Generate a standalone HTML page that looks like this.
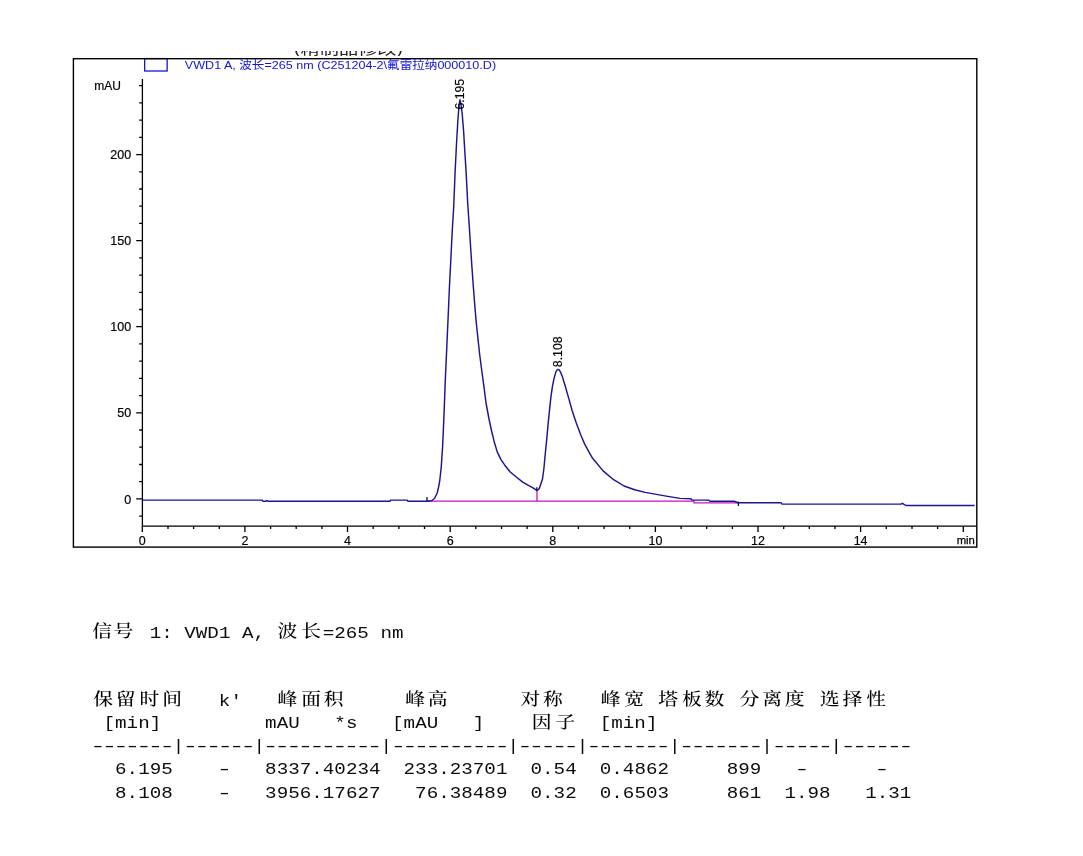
<!DOCTYPE html>
<html lang="zh"><head><meta charset="utf-8"><title>Report</title><style>
html,body{margin:0;padding:0;background:#fff}
body{width:1083px;height:856px;position:relative;overflow:hidden}
.r{position:absolute;white-space:pre;font-family:"Liberation Mono","Noto Serif CJK SC",monospace;font-size:17.0px;line-height:24px;height:24px;color:#0c0c0c;transform:scaleX(1.130);transform-origin:0 0}
.r .c{display:inline-block;position:relative;font-family:"Noto Serif CJK SC","Noto Sans CJK SC",serif;font-weight:500;font-size:16.5px;letter-spacing:0;padding-left:1.06px;box-sizing:border-box;line-height:10px;height:10px;vertical-align:baseline;color:#000;transform:translateY(-1.5px) scaleX(1.062);transform-origin:0 50%}
.r .d{display:inline-block;transform:translateX(-1.86px) scaleX(1.372);transform-origin:0 50%;white-space:pre;overflow:visible}
</style></head><body>
<svg width="1083" height="856" viewBox="0 0 1083 856" style="position:absolute;left:0;top:0">
<defs><clipPath id="topclip"><rect x="280" y="50.9" width="140" height="5.2"/></clipPath></defs>
<g clip-path="url(#topclip)"><text x="294" y="54.3" font-family="'Liberation Sans','Noto Sans CJK SC',sans-serif" font-size="15" fill="#222" textLength="109" lengthAdjust="spacingAndGlyphs">(精制品修改)</text></g>
<rect x="144.65" y="58.6" width="22.5" height="12.4" fill="none" stroke="#1414d4" stroke-width="1.3"/>
<rect x="73.4" y="58.7" width="903.4" height="488.4" fill="none" stroke="#000" stroke-width="1.4"/>
<text id="legend" x="184.8" y="68.8" font-family="'Liberation Sans','Noto Sans CJK SC',sans-serif" font-size="11.6" fill="#1414d4" textLength="311.3" lengthAdjust="spacingAndGlyphs">VWD1 A, 波长=265 nm (C251204-2\氟雷拉纳000010.D)</text>
<g stroke="#000" stroke-width="1.3" fill="none">
<path d="M142.4 79 V526.1 H976.8"/>
<path d="M139.2 516.1 H142.4 M136.2 498.9 H142.4 M139.2 481.7 H142.4 M139.2 464.5 H142.4 M139.2 447.2 H142.4 M139.2 430.0 H142.4 M136.2 412.8 H142.4 M139.2 395.6 H142.4 M139.2 378.4 H142.4 M139.2 361.2 H142.4 M139.2 343.9 H142.4 M136.2 326.7 H142.4 M139.2 309.5 H142.4 M139.2 292.3 H142.4 M139.2 275.1 H142.4 M139.2 257.9 H142.4 M136.2 240.6 H142.4 M139.2 223.4 H142.4 M139.2 206.2 H142.4 M139.2 189.0 H142.4 M139.2 171.8 H142.4 M136.2 154.6 H142.4 M139.2 137.3 H142.4 M139.2 120.1 H142.4 M139.2 102.9 H142.4 M139.2 85.7 H142.4"/>
<path d="M142.3 526.1 V532.1 M168.0 526.1 V529.1 M193.6 526.1 V529.1 M219.3 526.1 V529.1 M244.9 526.1 V532.1 M270.6 526.1 V529.1 M296.2 526.1 V529.1 M321.9 526.1 V529.1 M347.5 526.1 V532.1 M373.2 526.1 V529.1 M398.9 526.1 V529.1 M424.5 526.1 V529.1 M450.2 526.1 V532.1 M475.8 526.1 V529.1 M501.5 526.1 V529.1 M527.1 526.1 V529.1 M552.8 526.1 V532.1 M578.4 526.1 V529.1 M604.1 526.1 V529.1 M629.7 526.1 V529.1 M655.4 526.1 V532.1 M681.1 526.1 V529.1 M706.7 526.1 V529.1 M732.4 526.1 V529.1 M758.0 526.1 V532.1 M783.7 526.1 V529.1 M809.3 526.1 V529.1 M835.0 526.1 V529.1 M860.6 526.1 V532.1 M886.3 526.1 V529.1 M912.0 526.1 V529.1 M937.6 526.1 V529.1 M963.3 526.1 V532.1"/>
</g>
<g font-family="'Liberation Sans',sans-serif" font-size="12.5" fill="#000" stroke="#000" stroke-width="0.18">
<text x="94.2" y="89.9" font-size="12">mAU</text>
<text x="131.2" y="503.5" text-anchor="end">0</text>
<text x="131.2" y="417.4" text-anchor="end">50</text>
<text x="131.2" y="331.3" text-anchor="end">100</text>
<text x="131.2" y="245.2" text-anchor="end">150</text>
<text x="131.2" y="159.2" text-anchor="end">200</text>
<text x="142.3" y="545.2" text-anchor="middle">0</text>
<text x="244.9" y="545.2" text-anchor="middle">2</text>
<text x="347.5" y="545.2" text-anchor="middle">4</text>
<text x="450.2" y="545.2" text-anchor="middle">6</text>
<text x="552.8" y="545.2" text-anchor="middle">8</text>
<text x="655.4" y="545.2" text-anchor="middle">10</text>
<text x="758.0" y="545.2" text-anchor="middle">12</text>
<text x="860.6" y="545.2" text-anchor="middle">14</text>
<text x="974.9" y="543.9" text-anchor="end" font-size="11.3" stroke="#000" stroke-width="0.25">min</text>
</g>
<path d="M427 501.2 H694 V502.9 H738 M537 490.8 V501.2" stroke="#c414bc" stroke-width="1.3" fill="none"/>
<polyline points="142.6,500.1 262.0,500.1 263.0,501.2 266.0,501.2 267.0,500.5 268.0,501.2 390.0,501.2 391.0,500.1 407.0,500.1 408.0,501.2 427.0,501.2 431.6,500.8 434.5,498.5 437.2,493.0 438.6,487.0 439.7,481.0 441.2,467.5 442.7,445.0 444.0,415.0 445.3,380.0 446.8,347.0 448.1,318.0 449.5,285.5 450.9,258.0 452.3,230.0 453.7,207.0 455.1,172.0 456.5,144.0 457.9,120.0 459.1,105.0 460.0,99.8 461.0,104.0 462.2,114.0 463.6,131.0 465.0,154.5 466.1,172.0 467.8,205.0 469.2,225.0 470.6,247.0 472.0,268.0 473.4,287.5 474.8,305.5 476.2,322.0 477.7,336.2 479.5,353.0 481.4,368.0 484.2,388.6 486.1,403.5 488.9,418.5 491.7,431.5 494.5,442.8 497.3,452.1 501.0,459.6 504.8,465.2 510.0,471.7 516.0,476.8 522.7,482.1 528.0,485.2 533.0,487.8 536.8,490.4 538.2,489.7 539.4,488.3 540.8,484.0 542.5,479.0 543.9,468.5 545.4,452.5 546.8,438.5 548.2,423.1 549.6,409.1 551.0,396.4 552.4,386.6 554.1,378.2 555.9,371.9 557.0,370.0 558.0,369.3 559.0,369.8 560.1,371.2 562.2,376.1 565.0,385.2 568.6,397.9 572.1,410.5 576.3,423.1 580.5,434.3 584.7,444.1 590.0,453.9 592.6,458.3 603.1,470.9 613.6,479.7 624.1,486.0 634.6,489.8 645.2,492.4 666.2,496.1 680.0,498.4 691.0,498.8 692.0,500.1 709.0,500.1 710.0,501.3 734.0,501.3 738.0,502.7 781.0,502.7 782.0,504.1 901.0,504.1 902.5,503.3 904.0,504.3 906.0,505.5 974.6,505.5" fill="none" stroke="#1c1490" stroke-width="1.45" stroke-linejoin="round"/>
<path d="M427 497 V501.6 M536.8 487.3 V491 M738.4 501.6 V506" stroke="#101040" stroke-width="1.3" fill="none"/>
<g font-family="'Liberation Sans',sans-serif" font-size="12.3" fill="#000" stroke="#000" stroke-width="0.18">
<text transform="translate(463.5 109.6) rotate(-90)">6.195</text>
<text transform="translate(562.2 367.2) rotate(-90)">8.108</text>
</g>
</svg>
<div class="r" style="left:91.80px;top:622.20px;letter-spacing:0.011px"><span class="c" style="width:20.42px;margin-left:-1.15px;margin-right:1.15px">信</span><span class="c" style="width:20.42px;margin-left:-2.65px;margin-right:2.65px">号</span> 1: VWD1 A, <span class="c" style="width:20.42px">波</span><span class="c" style="width:20.42px">长</span>=265 nm</div>
<div class="r" style="left:91.80px;top:689.60px;letter-spacing:0.011px"><span class="c" style="width:20.42px">保</span><span class="c" style="width:20.42px">留</span><span class="c" style="width:20.42px">时</span><span class="c" style="width:20.42px">间</span>   k'   <span class="c" style="width:20.42px">峰</span><span class="c" style="width:20.42px">面</span><span class="c" style="width:20.42px">积</span>     <span class="c" style="width:20.42px">峰</span><span class="c" style="width:20.42px">高</span>      <span class="c" style="width:20.42px">对</span><span class="c" style="width:20.42px">称</span>   <span class="c" style="width:20.42px">峰</span><span class="c" style="width:20.42px">宽</span> <span class="c" style="width:20.42px">塔</span><span class="c" style="width:20.42px">板</span><span class="c" style="width:20.42px">数</span> <span class="c" style="width:20.42px">分</span><span class="c" style="width:20.42px">离</span><span class="c" style="width:20.42px">度</span> <span class="c" style="width:20.42px">选</span><span class="c" style="width:20.42px">择</span><span class="c" style="width:20.42px">性</span></div>
<div class="r" style="left:91.80px;top:712.40px;letter-spacing:0.011px"> [min]         mAU   *s   [mAU   ]    <span class="c" style="width:20.42px;top:1.0px">因</span><span class="c" style="width:20.42px;top:1.0px">子</span>  [min]</div>
<div class="r" style="left:91.80px;top:735.20px;letter-spacing:0.011px"><span class="d" style="width:71.49px;letter-spacing:-2.756px">-------</span>|<span class="d" style="width:61.27px;letter-spacing:-2.756px">------</span>|<span class="d" style="width:102.12px;letter-spacing:-2.756px">----------</span>|<span class="d" style="width:102.12px;letter-spacing:-2.756px">----------</span>|<span class="d" style="width:51.06px;letter-spacing:-2.756px">-----</span>|<span class="d" style="width:71.49px;letter-spacing:-2.756px">-------</span>|<span class="d" style="width:71.49px;letter-spacing:-2.756px">-------</span>|<span class="d" style="width:51.06px;letter-spacing:-2.756px">-----</span>|<span class="d" style="width:61.27px;letter-spacing:-2.756px">------</span></div>
<div class="r" style="left:91.80px;top:758.20px;letter-spacing:0.011px">  6.195    <span class="d" style="width:10.21px;letter-spacing:-2.756px">-</span>   8337.40234  233.23701  0.54  0.4862     899   <span class="d" style="width:10.21px;letter-spacing:-2.756px">-</span>      <span class="d" style="width:10.21px;letter-spacing:-2.756px">-</span></div>
<div class="r" style="left:91.80px;top:782.00px;letter-spacing:0.011px">  8.108    <span class="d" style="width:10.21px;letter-spacing:-2.756px">-</span>   3956.17627   76.38489  0.32  0.6503     861  1.98   1.31</div>
</body></html>
